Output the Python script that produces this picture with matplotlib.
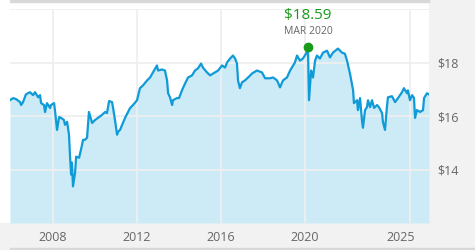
import matplotlib.pyplot as plt
from matplotlib.patches import Rectangle
import matplotlib.transforms as mtransforms

# price history (decimal year, $)
years = [
    2005.95, 2006.10, 2006.24, 2006.43, 2006.48, 2006.57, 2006.71, 2006.90,
    2007.05, 2007.14, 2007.29, 2007.38, 2007.43, 2007.57, 2007.62, 2007.71,
    2007.86, 2007.90, 2008.05, 2008.10, 2008.19, 2008.29, 2008.38, 2008.52,
    2008.57, 2008.67, 2008.76, 2008.81, 2008.86, 2008.90, 2008.95, 2009.05,
    2009.10, 2009.24, 2009.33, 2009.43, 2009.52, 2009.62, 2009.67, 2009.71,
    2009.86, 2010.00, 2010.14, 2010.33, 2010.48, 2010.57, 2010.67, 2010.81,
    2010.86, 2010.95, 2011.05, 2011.10, 2011.19, 2011.29, 2011.43, 2011.67,
    2011.81, 2012.00, 2012.14, 2012.29, 2012.48, 2012.62, 2012.76, 2012.95,
    2013.00, 2013.19, 2013.33, 2013.43, 2013.48, 2013.57, 2013.67, 2013.71,
    2013.90, 2014.00, 2014.14, 2014.29, 2014.43, 2014.62, 2014.76, 2014.90,
    2015.05, 2015.14, 2015.33, 2015.48, 2015.71, 2015.86, 2016.05, 2016.19,
    2016.29, 2016.43, 2016.57, 2016.67, 2016.76, 2016.81, 2016.90, 2017.00,
    2017.14, 2017.29, 2017.48, 2017.71, 2017.95, 2018.10, 2018.33, 2018.48,
    2018.67, 2018.81, 2018.95, 2019.14, 2019.29, 2019.52, 2019.62, 2019.76,
    2019.90, 2020.05, 2020.14, 2020.19, 2020.29, 2020.38, 2020.48, 2020.57,
    2020.71, 2020.86, 2021.05, 2021.19, 2021.33, 2021.57, 2021.76, 2021.90,
    2022.00, 2022.14, 2022.29, 2022.33, 2022.48, 2022.52, 2022.62, 2022.71,
    2022.76, 2022.86, 2022.95, 2023.00, 2023.10, 2023.19, 2023.29, 2023.43,
    2023.52, 2023.67, 2023.71, 2023.81, 2023.90, 2023.95, 2024.14, 2024.29,
    2024.43, 2024.62, 2024.71, 2024.86, 2024.90, 2025.00, 2025.10, 2025.19,
    2025.24, 2025.33, 2025.48, 2025.62, 2025.67, 2025.81, 2025.90,
]
prices = [
    16.59, 16.67, 16.63, 16.52, 16.41, 16.52, 16.81, 16.89,
    16.78, 16.89, 16.70, 16.78, 16.48, 16.41, 16.15, 16.48,
    16.30, 16.41, 16.48, 16.15, 15.48, 15.96, 15.93, 15.85,
    15.67, 15.78, 15.30, 14.48, 13.81, 14.26, 13.37, 13.89,
    14.48, 14.44, 14.74, 15.11, 15.11, 15.19, 15.74, 16.15,
    15.74, 15.85, 15.93, 16.04, 16.15, 16.11, 16.56, 16.52,
    16.30, 15.85, 15.30, 15.41, 15.48, 15.67, 15.93, 16.30,
    16.41, 16.59, 17.04, 17.15, 17.33, 17.44, 17.63, 17.89,
    17.70, 17.74, 17.70, 17.33, 16.85, 16.70, 16.41, 16.59,
    16.67, 16.67, 16.96, 17.22, 17.44, 17.52, 17.70, 17.78,
    17.96, 17.81, 17.63, 17.52, 17.63, 17.70, 17.89, 17.81,
    18.00, 18.15, 18.26, 18.15, 17.96, 17.33, 17.04, 17.26,
    17.33, 17.44, 17.59, 17.70, 17.63, 17.41, 17.41, 17.44,
    17.33, 17.07, 17.33, 17.44, 17.70, 18.00, 18.26, 18.07,
    18.15, 18.33, 18.59, 16.59, 17.70, 17.44, 18.07, 18.26,
    18.15, 18.37, 18.44, 18.19, 18.37, 18.52, 18.37, 18.33,
    18.07, 17.59, 16.96, 16.48, 16.59, 16.22, 16.67, 15.85,
    15.56, 16.22, 16.33, 16.59, 16.33, 16.59, 16.30, 16.41,
    16.33, 16.11, 15.78, 15.48, 16.33, 16.70, 16.74, 16.52,
    16.67, 16.89, 17.04, 16.85, 16.96, 16.59, 16.78, 16.67,
    15.93, 16.22, 16.15, 16.22, 16.67, 16.85, 16.81,
]

x_ticks = [2008, 2012, 2016, 2020, 2025]
y_ticks = [14, 16, 18]
y_grid = [14, 16, 18, 20]
peak_label = "$18.59"
peak_date = "MAR 2020"

line_color = "#0f9ad8"
fill_color = "#cdeaf7"
grid_color = "#efefef"
band_color = "#f2f2f2"
text_color = "#666666"
green = "#1a9a1a"

plt.rcParams["font.family"] = ["Open Sans", "DejaVu Sans"]

fig = plt.figure(figsize=(4.75, 2.5), dpi=100)
fig.patch.set_facecolor("white")

# grey frame pieces (right panel, bottom band, thin top/bottom rules)
frame = [
    ((0, 0), 1, 27 / 250, band_color),
    ((429 / 475, 0), 46 / 475, 1, band_color),
    ((10 / 475, 248 / 250), 419 / 475, 2 / 250, "#d8d8d8"),
    ((10 / 475, 0), 465 / 475, 2 / 250, "#d8d8d8"),
]
for xy, w, h, c in frame:
    fig.patches.append(Rectangle(xy, w, h, transform=fig.transFigure,
                                 color=c, zorder=-5))

ax = fig.add_axes([10 / 475, 27 / 250, 419 / 475, 214 / 250])
ax.set_zorder(5)
ax.set_xlim(2005.95, 2025.905)
ax.set_ylim(12, 20)
for s in ax.spines.values():
    s.set_visible(False)

ax.fill_between(years, prices, 12, color=fill_color, lw=0, zorder=1)
for yv in y_grid:
    ax.axhline(yv, color=grid_color, lw=1.3, zorder=2)
for xv in x_ticks:
    ax.axvline(xv, color=grid_color, lw=1.3, zorder=2)
ax.plot(years, prices, color=line_color, lw=1.6, zorder=3, solid_joinstyle="round")

# peak marker and callout
i_peak = prices.index(max(prices))
px, py = years[i_peak], prices[i_peak]
ax.plot([px], [py], "o", color=green, ms=6, zorder=4, clip_on=False)
ax.annotate(peak_label, (px, py), xytext=(0, 22.5), textcoords="offset points",
            ha="center", va="center", color=green, fontsize=11)
ax.annotate(peak_date, (px, py), xytext=(0, 11), textcoords="offset points",
            ha="center", va="center", color=text_color, fontsize=7.5)

ax.set_xticks(x_ticks)
ax.set_xticklabels([str(v) for v in x_ticks])
ax.set_yticks(y_ticks)
ax.set_yticklabels([f"${v}" for v in y_ticks])
ax.yaxis.tick_right()
ax.tick_params(axis="both", length=0, labelsize=9, colors=text_color)
ax.tick_params(axis="x", pad=6)
ax.tick_params(axis="y", pad=6)

# last year label sits a little left of its gridline
last = ax.get_xticklabels()[-1]
last.set_transform(last.get_transform() +
                   mtransforms.ScaledTranslation(-9 / 100, 0, fig.dpi_scale_trans))

fig.savefig("out.png", dpi=100)
